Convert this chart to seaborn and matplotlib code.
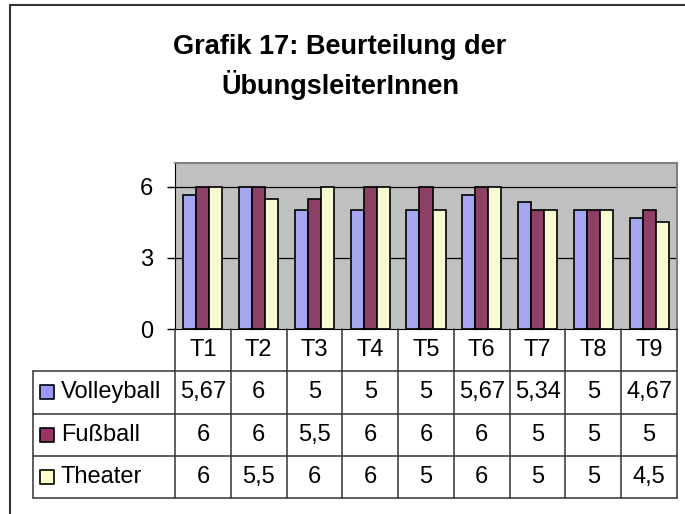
import seaborn as sns
import matplotlib.pyplot as plt
import pandas as pd
from matplotlib.lines import Line2D

kategorien = ['T1', 'T2', 'T3', 'T4', 'T5', 'T6', 'T7', 'T8', 'T9']
volleyball = [5.67, 6, 5, 5, 5, 5.67, 5.34, 5, 4.67]
fussball = [6, 6, 5.5, 6, 6, 6, 5, 5, 5]
theater = [6, 5.5, 6, 6, 5, 6, 5, 5, 4.5]
sportarten = ['Volleyball', 'Fußball', 'Theater']
farben = ['#9999FF', '#993366', '#FFFFCC']
y_ticks = [0, 3, 6]

sns.set_style('white')
plt.rcParams['font.family'] = ['Liberation Sans', 'DejaVu Sans']
plt.rcParams['text.color'] = 'black'
plt.rcParams['ytick.color'] = 'black'
plt.rcParams['ytick.labelcolor'] = 'black'

werte = [volleyball, fussball, theater]
df = pd.DataFrame({
    'Kategorie': kategorien * 3,
    'Sport': [s for s in sportarten for _ in kategorien],
    'Wert': volleyball + fussball + theater,
})

fig = plt.figure(figsize=(6.85, 5.14), dpi=100)
W, H = 685, 514
fs = 17
ax = fig.add_axes([175 / W, 1 - 329 / H, (677 - 175) / W, (329 - 163) / H])
tab = fig.add_axes([175 / W, 1 - 498 / H, (677 - 175) / W, (498 - 329) / H])

ax.set_facecolor('#C0C0C0')
for y in y_ticks[1:]:
    ax.axhline(y, color='black', lw=0.9, zorder=0)
sns.barplot(data=df, x='Kategorie', y='Wert', hue='Sport', palette=farben,
            width=0.7, edgecolor='black', linewidth=1.2, legend=False, ax=ax, zorder=2)
ax.set_xlim(-0.5, 8.5)
ax.set_ylim(0, 7)
ax.set_yticks(y_ticks)
ax.set_yticklabels([str(t) for t in y_ticks], fontsize=fs, color='black')
ax.set_xticks([])
ax.set_xlabel('')
ax.set_ylabel('')
ax.tick_params(axis='y', direction='out', length=6, width=1, pad=10, left=True, color='black')
for s in ['top', 'right']:
    ax.spines[s].set_color('#808080')
    ax.spines[s].set_linewidth(1.5)
ax.spines['left'].set_color('black')
ax.spines['bottom'].set_color('black')

# Datentabelle
tab.set_xlim(-0.5, 8.5)
tab.set_ylim(4, 0)
tab.axis('off')
links = -3.05
lc = '#333333'
for i in range(10):
    tab.plot([i - 0.5, i - 0.5], [0, 4], color=lc, lw=1.1, clip_on=False)
for r in [1, 2, 3, 4]:
    tab.plot([links, 8.5], [r, r], color=lc, lw=1.1, clip_on=False)
tab.plot([links, links], [1, 4], color=lc, lw=1.1, clip_on=False)
for i, k in enumerate(kategorien):
    tab.text(i, 0.5, k, ha='center', va='center', fontsize=fs, color='black')
for r, (name, vals, col) in enumerate(zip(sportarten, werte, farben)):
    yc = r + 1.5
    tab.scatter([links + 0.26], [yc], marker='s', s=95, color=col,
                edgecolor='black', linewidth=1.2, clip_on=False)
    tab.text(links + 0.5, yc, name, ha='left', va='center', fontsize=fs, color='black')
    for i, v in enumerate(vals):
        tab.text(i, yc, f'{v:g}'.replace('.', ','), ha='center', va='center',
                 fontsize=fs, color='black')

# Titel und Rahmen
fig.text(340 / W, 1 - 47 / H, 'Grafik 17: Beurteilung der', ha='center', va='center',
         fontsize=19.5, fontweight='bold', color='black')
fig.text(340 / W, 1 - 85 / H, 'ÜbungsleiterInnen', ha='center', va='center',
         fontsize=19.5, fontweight='bold', color='black')
fig.add_artist(Line2D([10 / W, 10 / W], [0, 1 - 5 / H], color='#333333', lw=1.5))
fig.add_artist(Line2D([10 / W, 1], [1 - 5 / H, 1 - 5 / H], color='#333333', lw=1.5))

fig.savefig('out.png', dpi=100)
